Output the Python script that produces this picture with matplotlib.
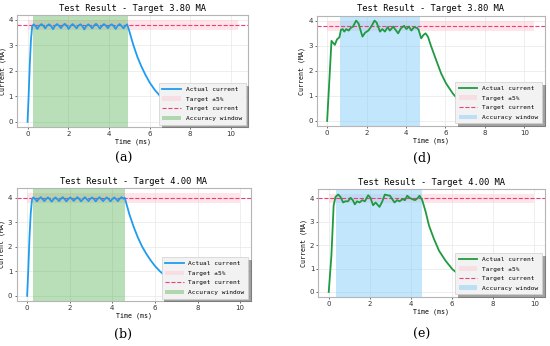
import matplotlib
matplotlib.use("Agg")
import matplotlib.pyplot as plt

# ---- data ----
# (a) target 3.80 MA, blue trace
t_a = [0, 0.05, 0.11, 0.17, 0.23,
       0.30, 0.39, 0.48, 0.58,
       0.68, 0.78, 0.87, 0.96,
       1.06, 1.16, 1.25, 1.35,
       1.45, 1.54, 1.64, 1.73,
       1.83, 1.93, 2.02, 2.12,
       2.22, 2.31, 2.41, 2.50,
       2.60, 2.70, 2.79, 2.89,
       2.99, 3.08, 3.18, 3.27,
       3.37, 3.47, 3.56, 3.66,
       3.76, 3.85, 3.95, 4.04,
       4.14, 4.24, 4.33, 4.43,
       4.53, 4.62, 4.72, 4.81,
       4.90,
       5.0, 5.2, 5.4, 5.6, 5.8, 6.0, 6.25, 6.5, 6.75, 7.0,
       7.5, 8.0, 8.5, 9.0, 9.5, 10.0, 10.33]
i_a = [0, 0.95, 2.25, 3.25, 3.75,
       3.82, 3.75, 3.64, 3.76,
       3.83, 3.76, 3.66, 3.77,
       3.82, 3.75, 3.63, 3.76,
       3.83, 3.77, 3.67, 3.77,
       3.84, 3.76, 3.64, 3.76,
       3.83, 3.76, 3.66, 3.77,
       3.82, 3.75, 3.62, 3.75,
       3.82, 3.76, 3.66, 3.77,
       3.84, 3.76, 3.65, 3.76,
       3.83, 3.77, 3.67, 3.77,
       3.82, 3.75, 3.64, 3.76,
       3.83, 3.76, 3.66, 3.76,
       3.82,
       3.57, 3.02, 2.55, 2.17, 1.84, 1.55, 1.26, 1.03, 0.83, 0.68,
       0.45, 0.29, 0.19, 0.13, 0.08, 0.05, 0.04]

# (b) target 4.00 MA, blue trace
t_b = [0, 0.05, 0.11, 0.17, 0.23,
       0.29, 0.38, 0.46, 0.55,
       0.64, 0.72, 0.81, 0.89,
       0.98, 1.07, 1.15, 1.24,
       1.33, 1.41, 1.50, 1.58,
       1.67, 1.76, 1.84, 1.93,
       2.02, 2.10, 2.19, 2.27,
       2.36, 2.45, 2.53, 2.62,
       2.71, 2.79, 2.88, 2.96,
       3.05, 3.14, 3.22, 3.31,
       3.40, 3.48, 3.57, 3.65,
       3.74, 3.83, 3.91, 4.00,
       4.09, 4.17, 4.26, 4.34,
       4.43, 4.52, 4.58,
       4.8, 5.0, 5.2, 5.4, 5.6, 5.8, 6.0, 6.25, 6.5, 6.75, 7.0,
       7.5, 8.0, 8.5, 9.0, 9.5, 10.0]
i_b = [0, 1.0, 2.4, 3.4, 3.95,
       4.02, 3.95, 3.86, 3.96,
       4.03, 3.95, 3.87, 3.96,
       4.02, 3.94, 3.85, 3.95,
       4.02, 3.95, 3.87, 3.96,
       4.03, 3.95, 3.86, 3.95,
       4.02, 3.96, 3.88, 3.96,
       4.03, 3.95, 3.86, 3.95,
       4.03, 3.96, 3.87, 3.96,
       4.02, 3.95, 3.86, 3.96,
       4.03, 3.95, 3.87, 3.96,
       4.02, 3.95, 3.86, 3.95,
       4.02, 3.96, 3.87, 3.96,
       4.03, 3.97, 4.01,
       3.33, 2.82, 2.38, 2.01, 1.71, 1.45, 1.22, 0.99, 0.81, 0.66, 0.53,
       0.35, 0.23, 0.15, 0.10, 0.07, 0.05]

# (d) target 3.80 MA, green trace
t_d = [0, 0.22, 0.39, 0.50, 0.62, 0.70, 0.79, 0.87, 0.97, 1.09, 1.20, 1.31,
       1.47, 1.59, 1.79, 1.93, 2.09, 2.26, 2.40, 2.51, 2.68, 2.80, 2.93,
       3.07, 3.18, 3.35, 3.47, 3.60, 3.74, 3.90, 4.02, 4.15, 4.27, 4.41,
       4.57, 4.64, 4.77, 4.89, 4.99, 5.11, 5.28, 5.53, 5.78, 6.03, 6.37,
       6.70, 7.12, 7.5, 8.0, 8.5, 9.0, 9.5, 10.0, 10.5]
i_d = [0, 3.20, 3.04, 3.26, 3.34, 3.64, 3.67, 3.57, 3.67, 3.61, 3.72, 3.77,
       4.01, 3.90, 3.37, 3.53, 3.61, 3.80, 4.01, 3.93, 3.57, 3.67, 3.57,
       3.75, 3.61, 3.77, 3.64, 3.50, 3.70, 3.80, 3.67, 3.77, 3.61, 3.75,
       3.71, 3.64, 3.30, 3.44, 3.50, 3.37, 2.97, 2.43, 1.90, 1.50, 1.10,
       0.80, 0.59, 0.44, 0.30, 0.21, 0.14, 0.10, 0.07, 0.05]

# (e) target 4.00 MA, green trace
t_e = [0, 0.13, 0.24, 0.33, 0.46, 0.57, 0.70, 0.81, 0.94, 1.06, 1.17, 1.27,
       1.38, 1.50, 1.63, 1.76, 1.92, 2.03, 2.16, 2.28, 2.47, 2.60, 2.73,
       2.85, 2.98, 3.09, 3.20, 3.33, 3.45, 3.58, 3.71, 3.82, 3.93, 4.07,
       4.20, 4.31, 4.42, 4.55, 4.72, 4.88, 5.12, 5.37, 5.69, 6.02, 6.42,
       6.80, 7.5, 8.0, 8.5, 9.0, 9.5, 10.0]
i_e = [0, 1.55, 3.71, 4.07, 4.17, 4.07, 3.83, 3.88, 3.88, 4.03, 3.93, 3.75,
       3.88, 3.83, 3.93, 3.88, 4.14, 4.03, 3.71, 3.83, 3.64, 3.86, 4.17,
       4.14, 4.12, 3.97, 3.83, 3.93, 3.88, 3.97, 3.93, 4.12, 4.03, 3.97,
       3.93, 4.00, 4.12, 3.93, 3.42, 2.84, 2.27, 1.76, 1.33, 0.97, 0.68,
       0.53, 0.33, 0.23, 0.15, 0.11, 0.07, 0.05]

targets = [3.80, 4.00, 3.80, 4.00]
windows = [(0.28, 4.92), (0.27, 4.58), (0.67, 4.69), (0.33, 4.55)]
panel_labels = ["(a)", "(b)", "(d)", "(e)"]

BLUE = "#1f9cf0"
GREEN = "#1f9a40"

plt.rcParams["font.family"] = ["DejaVu Sans Mono"]

fig = plt.figure(figsize=(5.5, 3.46), dpi=100)
rects = [
    [0.031, 0.633, 0.420, 0.324],
    [0.030, 0.130, 0.426, 0.327],
    [0.576, 0.636, 0.414, 0.319],
    [0.579, 0.142, 0.411, 0.312],
]
series = [(t_a, i_a, BLUE, "#2ca02c", 0.33),
          (t_b, i_b, BLUE, "#2ca02c", 0.33),
          (t_d, i_d, GREEN, "#87cefa", 0.5),
          (t_e, i_e, GREEN, "#87cefa", 0.5)]
label_pos = [(0.224, 0.543), (0.224, 0.032), (0.767, 0.543), (0.767, 0.032)]

for k in range(4):
    t, cur, lc, wc, wa = series[k]
    tgt = targets[k]
    ax = fig.add_axes(rects[k])
    ax.plot(t, cur, color=lc, lw=1.3, label="Actual current", zorder=3)
    ax.fill_between([t[0], t[-1]], tgt * 0.95, tgt * 1.05, color="pink",
                    alpha=0.4, lw=0, label="Target ±5%")
    ax.axhline(tgt, color="#f03c78", ls="--", lw=0.8, label="Target current")
    ax.axvspan(windows[k][0], windows[k][1], color=wc, alpha=wa, lw=0,
               label="Accuracy window", zorder=1)
    ax.set_title("Test Result - Target %.2f MA" % tgt, fontsize=6.3, pad=3)
    ax.set_xlabel("Time (ms)", fontsize=4.8, labelpad=1)
    ax.set_ylabel("Current (MA)", fontsize=4.8, labelpad=2)
    ax.set_xticks([0, 2, 4, 6, 8, 10])
    ax.set_yticks([0, 1, 2, 3, 4])
    ax.tick_params(labelsize=5, length=1.5, width=0.5, pad=1.5,
                   colors="#333333")
    for lab in ax.get_xticklabels() + ax.get_yticklabels():
        lab.set_family("DejaVu Sans")
    ax.grid(True, color="#e8e8e8", lw=0.5)
    ax.set_axisbelow(True)
    for sp in ax.spines.values():
        sp.set_color("#b5b5b5")
        sp.set_linewidth(0.8)
    leg = ax.legend(loc="lower right", fontsize=4.4, frameon=True,
                    shadow=True, fancybox=False, handlelength=3.0,
                    labelspacing=0.7, borderpad=0.6, borderaxespad=0.4)
    leg.get_frame().set_facecolor("#f2f2f2")
    leg.get_frame().set_edgecolor("#cfcfcf")
    leg.get_frame().set_linewidth(0.5)
    fig.text(label_pos[k][0], label_pos[k][1], panel_labels[k],
             family="DejaVu Serif", fontsize=9, ha="center", va="center")

fig.savefig("out.png", dpi=100)
